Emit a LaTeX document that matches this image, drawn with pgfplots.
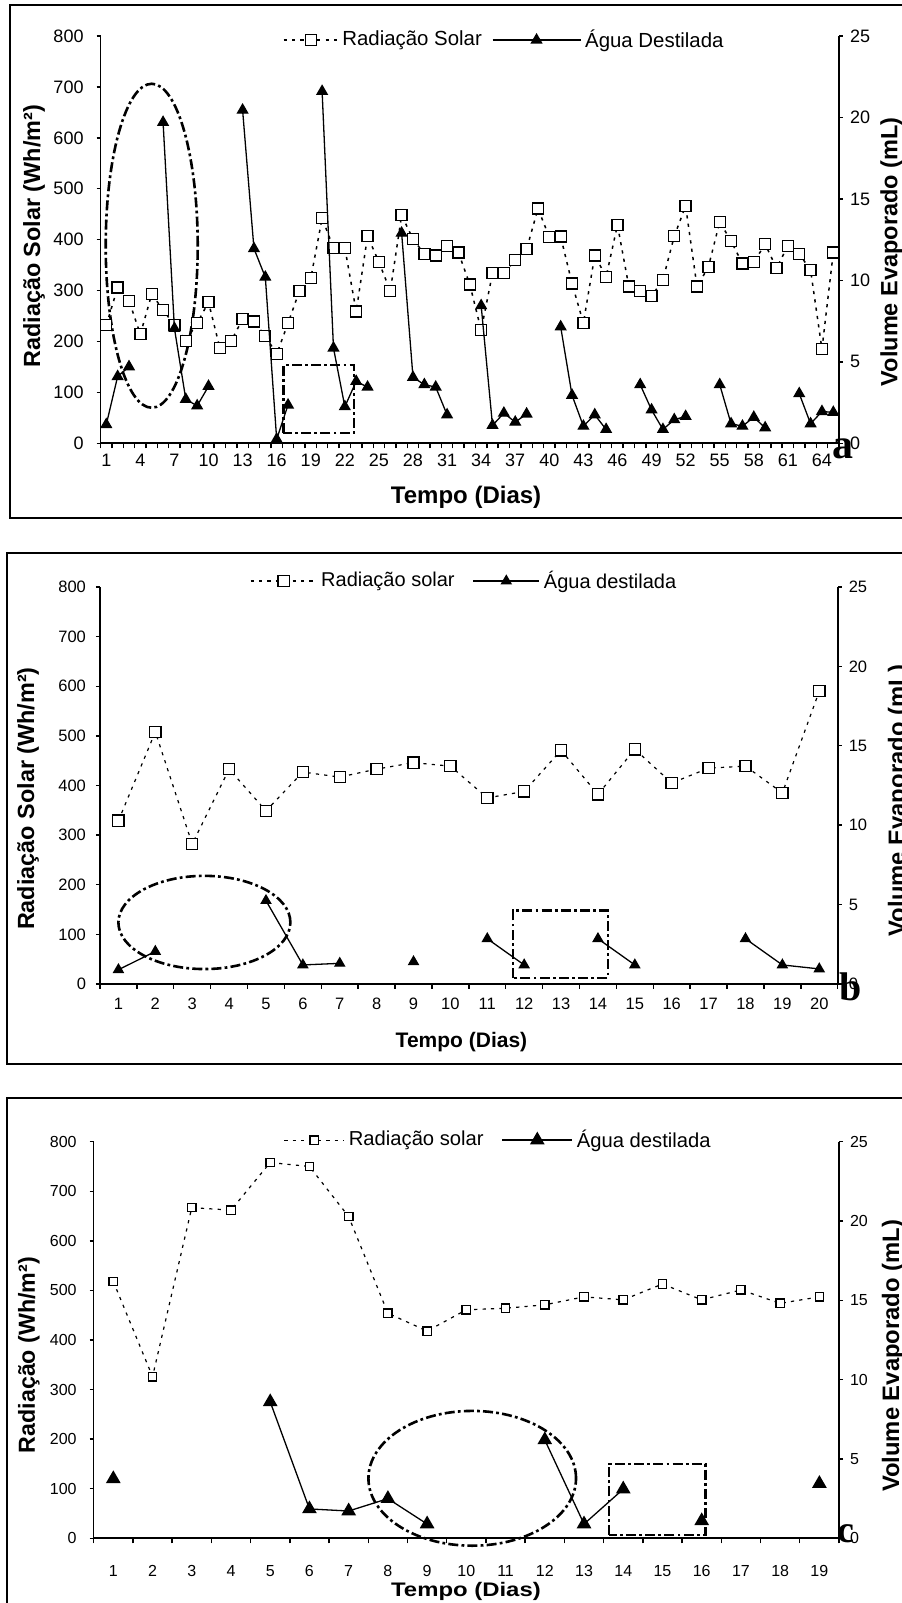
\documentclass[border=0pt]{standalone}
\usepackage{pgfplots}
\usepackage{pgfplotstable}
\pgfplotsset{compat=1.18}
\usepackage{fontspec}
\setmainfont{Liberation Sans}
\newfontfamily\serifbold{Liberation Serif}

\pgfplotstableread{
d r
1 232
2 306
3 280
4 214
5 293
6 262
7 232
8 201
9 236
10 277
11 187
12 201
13 244
14 239
15 211
16 175
17 236
18 299
19 324
20 442
21 384
22 384
23 259
24 407
25 356
26 299
27 448
28 401
29 372
30 369
31 388
32 375
33 312
34 222
35 334
36 334
37 360
38 381
39 461
40 405
41 406
42 314
43 236
44 369
45 327
46 429
47 308
48 299
49 289
50 321
51 407
52 466
53 308
54 346
55 435
56 397
57 353
58 356
59 391
60 344
61 388
62 372
63 340
64 185
65 375
}\radA

\pgfplotstableread{
d w
1 1.15
2 4.1
3 4.7
4 nan
5 nan
6 19.7
7 7.05
8 2.7
9 2.3
10 3.5
11 nan
12 nan
13 20.45
14 11.95
15 10.2
16 0.25
17 2.35
18 nan
19 nan
20 21.6
21 5.85
22 2.25
23 3.8
24 3.45
25 nan
26 nan
27 12.9
28 4.05
29 3.6
30 3.45
31 1.75
32 nan
33 nan
34 8.45
35 1.1
36 1.85
37 1.3
38 1.8
39 nan
40 nan
41 7.15
42 2.95
43 1.05
44 1.75
45 0.85
46 nan
47 nan
48 3.6
49 2.05
50 0.85
51 1.45
52 1.65
53 nan
54 nan
55 3.6
56 1.2
57 1.05
58 1.6
59 0.95
60 nan
61 nan
62 3.05
63 1.2
64 1.95
65 1.9
}\watA

\pgfplotstableread{
d r
1 329
2 508
3 282
4 433
5 349
6 427
7 417
8 433
9 446
10 439
11 375
12 388
13 471
14 382
15 473
16 405
17 435
18 439
19 385
20 590
}\radB

\pgfplotstableread{
d w
1 0.9
2 2.05
3 nan
4 nan
5 5.25
6 1.2
7 1.3
8 nan
9 1.4
10 nan
11 2.85
12 1.2
13 nan
14 2.85
15 1.2
16 nan
17 nan
18 2.85
19 1.2
20 0.95
}\watB

\pgfplotstableread{
d r
1 518
2 326
3 667
4 662
5 758
6 750
7 649
8 454
9 418
10 461
11 464
12 471
13 487
14 481
15 513
16 481
17 501
18 474
19 487
}\radC

\pgfplotstableread{
d w
1 3.75
2 nan
3 nan
4 nan
5 8.6
6 1.85
7 1.72
8 2.5
9 0.9
10 nan
11 nan
12 6.2
13 0.9
14 3.1
15 nan
16 1.1
17 nan
18 nan
19 3.45
}\watC

\tikzset{
  annot/.style={line width=1.3pt, dash pattern=on 5pt off 1.6pt on 1.4pt off 1.6pt},
}
\pgfplotsset{
  base/.style={
    scale only axis,
    anchor=south west,
    /pgf/number format/assume math mode=true,
    tick align=outside,
    major tick length=2pt,
    minor tick length=2.5pt,
    unbounded coords=jump,
    clip=false,
    ymin=0,
    axis line style={-, line width=0.8pt},
    every tick/.append style={line width=0.7pt, black},
  },
  leftax/.style={
    base, axis y line*=left, axis x line*=bottom,
    ymax=800, ytick={0,100,...,800},
    major x tick style={draw=none},
  },
  rightax/.style={
    base, axis y line*=right, axis x line=none,
    ymax=25, ytick={0,5,...,25},
  },
  radstyle/.style={black, line width=0.75pt, dash pattern=on 1.6pt off 2.6pt,
    mark=square*, mark options={solid, fill=white, draw=black, line width=0.65pt}},
  watstyle/.style={black, line width=0.65pt, solid,
    mark=triangle*, mark options={solid, fill=black}},
}

\newcommand{\legimg}[1]{\draw[mark repeat=2,mark phase=2] plot coordinates {(0pt,0pt) (#1/2,0pt) (#1,0pt)};}

\begin{document}
\begin{tikzpicture}
\useasboundingbox (0,0) rectangle (450.5pt,801.5pt);
% frames
\draw[line width=1.1pt] (5pt,542.5pt) rectangle (470pt,799pt);
\draw[line width=1.1pt] (3.5pt,269.5pt) rectangle (470pt,525pt);
\draw[line width=1.1pt] (3.5pt,-20pt) rectangle (470pt,252.5pt);

% ================= Panel a =================
\begin{axis}[leftax, at={(50.3pt,579.85pt)}, width=369.2pt, height=203.65pt,
  xmin=0.5, xmax=65.5, xtick={1,4,...,64},
  minor xtick={0.5,1.5,...,65.5},
  ticklabel style={font=\fontsize{9}{10}\selectfont},
  yticklabel style={xshift=-3pt},
  xlabel={Tempo (Dias)}, ylabel={Radiação Solar (Wh/m²)},
  xlabel style={at={(axis description cs:0.495,-0.132)}, anchor=center, font=\bfseries\fontsize{12}{12}\selectfont},
  ylabel style={at={(axis description cs:-0.09,0.508)}, anchor=center, font=\bfseries\fontsize{11.7}{12}\selectfont},
  legend style={at={(axis description cs:0.548,0.99)}, anchor=center, draw=none, fill=none,
    legend columns=-1, font=\fontsize{10.2}{11}\selectfont,
    /tikz/every even column/.append style={column sep=3pt}},
  ]
\addplot[radstyle, mark size=2.75pt, legend image code/.code={\legimg{27pt}}] table[x=d,y=r] {\radA};
\addlegendentry{Radiação Solar}
\addlegendimage{watstyle, mark size=2.9pt, legend image code/.code={\legimg{44pt}}}
\addlegendentry{Água Destilada}
\draw[annot] (axis cs:5,388) ellipse [x radius=23pt, y radius=81pt];
\draw[annot] (axis cs:16.6,20) rectangle (axis cs:22.8,154);
\end{axis}
\begin{axis}[rightax, at={(50.3pt,579.85pt)}, width=369.2pt, height=203.65pt,
  xmin=0.5, xmax=65.5,
  ticklabel style={font=\fontsize{9}{10}\selectfont},
  ylabel={Volume Evaporado (mL)},
  ylabel style={at={(axis description cs:1.071,0.47)}, anchor=center, font=\bfseries\fontsize{11.75}{12}\selectfont},
  ]
\addplot[watstyle, mark size=2.9pt] table[x=d,y=w] {\watA};
\end{axis}
\node[font=\serifbold\bfseries\fontsize{21}{21}\selectfont] at (421.5pt,577pt) {a};

% ================= Panel b =================
\begin{axis}[leftax, at={(50pt,309.5pt)}, width=368.85pt, height=198.5pt,
  xmin=0.5, xmax=20.5, xtick={1,...,20},
  minor xtick={0.5,1.5,...,20.5},
  ticklabel style={font=\fontsize{8.25}{9}\selectfont},
  yticklabel style={xshift=-1.5pt},
  xticklabel style={yshift=-1.5pt},
  xlabel={Tempo (Dias)}, ylabel={Radiação Solar (Wh/m²)},
  xlabel style={at={(axis description cs:0.49,-0.146)}, anchor=center, font=\bfseries\fontsize{10.5}{11}\selectfont},
  ylabel style={at={(axis description cs:-0.0976,0.467)}, anchor=center, font=\bfseries\fontsize{11.7}{12}\selectfont},
  legend style={at={(axis description cs:0.495,1.015)}, anchor=center, draw=none, fill=none,
    legend columns=-1, font=\fontsize{10}{10}\selectfont,
    /tikz/every even column/.append style={column sep=7pt}},
  ]
\addplot[radstyle, mark size=2.8pt, line width=0.6pt, legend image code/.code={\legimg{33pt}}] table[x=d,y=r] {\radB};
\addlegendentry{Radiação solar}
\addlegendimage{watstyle, mark size=2.7pt, legend image code/.code={\legimg{33pt}}}
\addlegendentry{Água destilada}
\draw[annot] (axis cs:3.33,124) ellipse [x radius=43pt, y radius=23.3pt];
\draw[annot] (axis cs:11.7,12) rectangle (axis cs:14.27,148);
\end{axis}
\begin{axis}[rightax, at={(50pt,309.5pt)}, width=368.85pt, height=198.5pt,
  xmin=0.5, xmax=20.5,
  ticklabel style={font=\fontsize{8.25}{9}\selectfont},
  ylabel={Volume Evaporado (mL)},
  ylabel style={at={(axis description cs:1.083,0.463)}, anchor=center, font=\bfseries\fontsize{11.9}{12}\selectfont},
  ]
\addplot[watstyle, mark size=2.7pt] table[x=d,y=w] {\watB};
\end{axis}
\node[font=\serifbold\bfseries\fontsize{20}{20}\selectfont] at (425.5pt,308pt) {b};

% ================= Panel c =================
\begin{axis}[leftax, at={(46.85pt,32.35pt)}, width=372.65pt, height=198.3pt,
  xmin=0.5, xmax=19.5, xtick={1,...,19},
  minor xtick={0.5,1.5,...,19.5},
  ticklabel style={font=\fontsize{8}{9}\selectfont},
  yticklabel style={xshift=-3pt},
  xticklabel style={yshift=-8pt},
  xlabel={\scalebox{1.22}[1]{Tempo (Dias)}}, ylabel={Radiação (Wh/m²)},
  xlabel style={at={(axis description cs:0.4995,-0.133)}, anchor=center, font=\bfseries\fontsize{9.8}{10}\selectfont},
  ylabel style={at={(axis description cs:-0.087,0.462)}, anchor=center, font=\bfseries\fontsize{11.6}{12}\selectfont},
  legend style={at={(axis description cs:0.544,1.004)}, anchor=center, draw=none, fill=none,
    legend columns=-1, font=\fontsize{10.1}{10}\selectfont,
    /tikz/every even column/.append style={column sep=7pt}},
  ]
\addplot[radstyle, mark size=2.1pt, line width=0.6pt, legend image code/.code={\legimg{30pt}}] table[x=d,y=r] {\radC};
\addlegendentry{Radiação solar}
\addlegendimage{watstyle, mark size=3.6pt, legend image code/.code={\legimg{35pt}}}
\addlegendentry{Água destilada}
\draw[annot] (axis cs:10.15,121) ellipse [x radius=51.9pt, y radius=33.7pt];
\draw[annot] (axis cs:13.64,7) rectangle (axis cs:16.09,150);
\end{axis}
\begin{axis}[rightax, at={(46.85pt,32.35pt)}, width=372.65pt, height=198.3pt,
  xmin=0.5, xmax=19.5,
  ticklabel style={font=\fontsize{8}{9}\selectfont},
  ylabel={Volume Evaporado (mL)},
  ylabel style={at={(axis description cs:1.0725,0.46)}, anchor=center, font=\bfseries\fontsize{11.9}{12}\selectfont},
  ]
\addplot[watstyle, mark size=3.6pt] table[x=d,y=w] {\watC};
\end{axis}
\node[font=\serifbold\bfseries\fontsize{19}{19}\selectfont] at (423pt,34.5pt) {c};
\end{tikzpicture}
\end{document}
